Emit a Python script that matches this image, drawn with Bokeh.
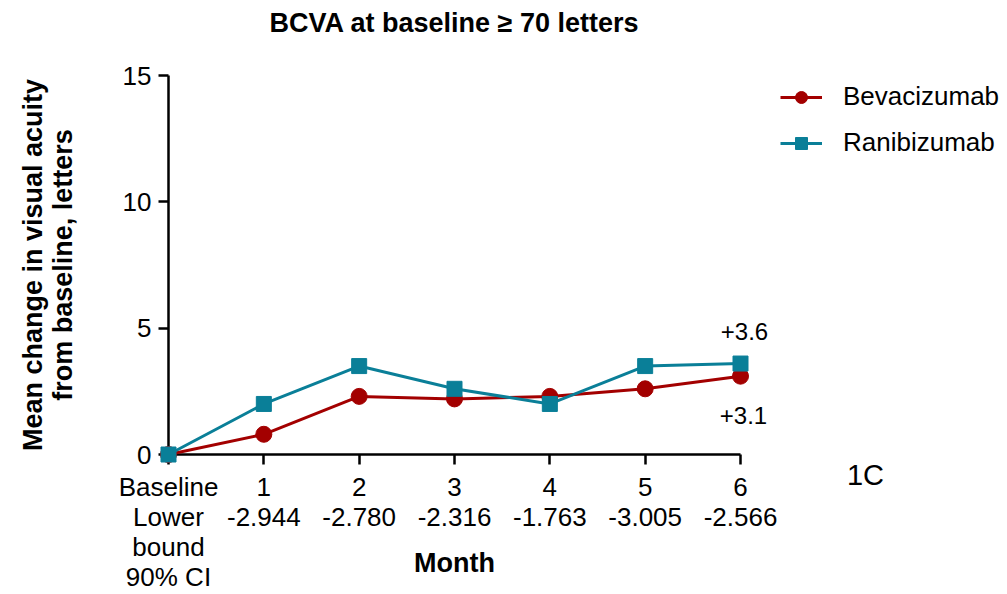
from bokeh.plotting import figure
from bokeh.models import Range1d, Legend, LegendItem, FixedTicker
from bokeh.embed import file_html
from bokeh.resources import INLINE
import math

# ---- data ----
months = [0, 1, 2, 3, 4, 5, 6]
month_names = ["Baseline", "1", "2", "3", "4", "5", "6"]
lower_bound = ["Lower\nbound\n90% CI", "-2.944", "-2.780", "-2.316", "-1.763", "-3.005", "-2.566"]
bevacizumab = [0.0, 0.8, 2.3, 2.2, 2.3, 2.6, 3.1]
ranibizumab = [0.0, 2.0, 3.5, 2.6, 2.0, 3.5, 3.6]
y_ticks = [0, 5, 10, 15]

FONT = "Liberation Sans"
RED = "#a30000"
TEAL = "#0a7f98"

# frame extends to the right edge so the legend (inside the frame) is not clipped;
# the x axis itself is bounded to months 0..6
AXIS_PX = 572     # pixel length of months 0..6
FRAME_PX = 839    # frame width
x_end = months[-1] * FRAME_PX / AXIS_PX

p = figure(width=1007, height=594, x_range=Range1d(0, x_end), y_range=Range1d(0, 15),
           output_backend="svg", toolbar_location=None, title=None,
           min_border_left=168, min_border_right=0, min_border_top=75, min_border_bottom=139)
p.outline_line_color = None
p.xgrid.visible = False
p.ygrid.visible = False
p.background_fill_color = "white"
p.xaxis.bounds = (months[0], months[-1])

# axes
for ax in (p.xaxis[0], p.yaxis[0]):
    ax.axis_line_width = 2.5
    ax.axis_line_color = "black"
    ax.major_tick_line_width = 2.5
    ax.major_tick_line_color = "black"
    ax.major_tick_out = 10
    ax.major_tick_in = 0
    ax.minor_tick_line_color = None
    ax.major_label_text_font = FONT
    ax.major_label_text_font_size = "26px"
    ax.major_label_text_color = "black"
    ax.major_label_standoff = 7

p.yaxis.ticker = FixedTicker(ticks=y_ticks)
p.xaxis.ticker = FixedTicker(ticks=months)
p.xaxis.major_label_overrides = {m: f"{n}\n{lb}" for m, n, lb in zip(months, month_names, lower_bound)}
p.xaxis.major_label_text_line_height = 1.0

# series
bl = p.line(months, bevacizumab, line_color=RED, line_width=3, level="overlay")
bs = p.scatter(months, bevacizumab, marker="circle", size=16, fill_color=RED, line_color=RED, level="overlay")
rl = p.line(months, ranibizumab, line_color=TEAL, line_width=3, level="overlay")
rs = p.scatter(months, ranibizumab, marker="square", size=15, fill_color=TEAL, line_color=TEAL, level="overlay")

legend = Legend(items=[LegendItem(label="Bevacizumab", renderers=[bl, bs]),
                       LegendItem(label="Ranibizumab", renderers=[rl, rs])],
                location=(612, 296), glyph_width=42, glyph_height=30, label_height=30,
                label_standoff=21, spacing=15, padding=0, margin=0,
                border_line_color=None, background_fill_alpha=0,
                label_text_font=FONT, label_text_font_size="26px", label_text_color="black")
p.add_layout(legend)

common = dict(text_font={"value": FONT}, text_color="black", level="overlay")

# title
p.text(x=[3], y=[15], text=["BCVA at baseline \u2265 70 letters"], y_offset=-53,
       text_align="center", text_baseline="middle",
       text_font_style="bold", text_font_size="27px", **common)

# y axis title
p.text(x=[0], y=[7.5], text=["Mean change in visual acuity\nfrom baseline, letters"],
       x_offset=-121, angle=math.pi / 2,
       text_align="center", text_baseline="middle", text_line_height=1.0,
       text_font_style="bold", text_font_size="27px", **common)

# x axis title
p.text(x=[3], y=[0], text=["Month"], y_offset=108,
       text_align="center", text_baseline="middle",
       text_font_style="bold", text_font_size="27px", **common)

# end value annotations
p.text(x=[months[-1]], y=[ranibizumab[-1]], text=[f"+{ranibizumab[-1]:.1f}"], x_offset=4, y_offset=-32,
       text_align="center", text_baseline="middle", text_font_size="24px", **common)
p.text(x=[months[-1]], y=[bevacizumab[-1]], text=[f"+{bevacizumab[-1]:.1f}"], x_offset=3, y_offset=39,
       text_align="center", text_baseline="middle", text_font_size="24px", **common)

# panel tag
p.text(x=[months[-1]], y=[0], text=["1C"], x_offset=125, y_offset=20,
       text_align="center", text_baseline="middle", text_font_size="29px", **common)

open("out.html", "w").write(file_html(p, INLINE))
